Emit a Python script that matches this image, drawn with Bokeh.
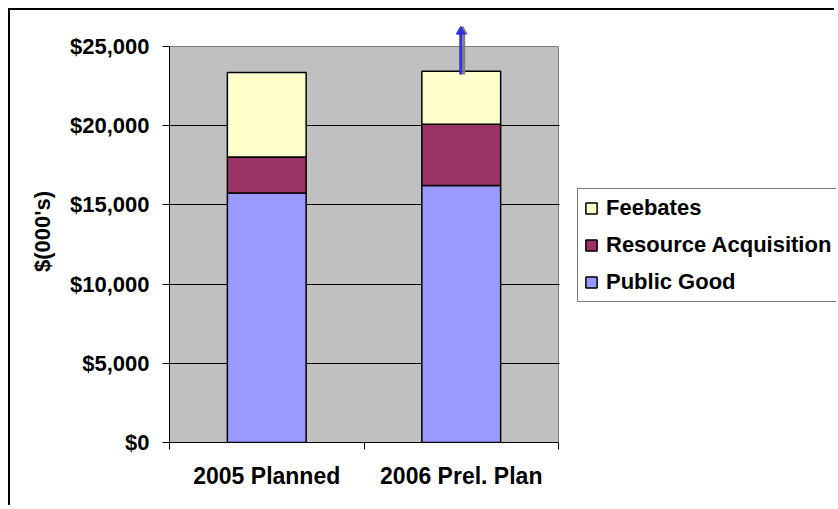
from bokeh.plotting import figure
from bokeh.models import (Range1d, FixedTicker, NumeralTickFormatter, Legend,
                          LegendItem, ColumnDataSource)
from bokeh.embed import file_html
from bokeh.resources import INLINE

# ---- data ----
categories = ["2005 Planned", "2006 Prel. Plan"]
public_good = [15750, 16220]
resource_acquisition = [2280, 3870]
feebates = [5330, 3350]
series_names = ["Public Good", "Resource Acquisition", "Feebates"]
series_colors = ["#9999FF", "#993366", "#FFFFCC"]
y_ticks = [0, 5000, 10000, 15000, 20000, 25000]
arrow_start_value = [23230]   # upward arrow above the 2006 bar: start
arrow_end_value = [26200]     # ... and tip

FONT = "Liberation Sans"

# ---- layout (pixels of the canvas) ----
CANVAS_W, CANVAS_H = 826, 497
LEFT, TOP, BOTTOM = 159, 10, 65
PLOT_W, PLOT_H = 389, 396         # grey plot area
FRAME_W = CANVAS_W - LEFT
FRAME_H = CANVAS_H - TOP - BOTTOM

n = len(categories)
x_max = n * FRAME_W / PLOT_W
y_max = y_ticks[-1] * FRAME_H / PLOT_H
px = n / PLOT_W                   # one pixel in x data units
py = y_ticks[-1] / PLOT_H         # one pixel in y data units

x = [i + 0.5 for i in range(n)]
source = ColumnDataSource(dict(x=x, pg=public_good, ra=resource_acquisition, fb=feebates))

p = figure(width=CANVAS_W, height=CANVAS_H, output_backend="svg", toolbar_location=None,
           x_range=Range1d(0, x_max), y_range=Range1d(0, y_max),
           min_border_left=LEFT, min_border_right=0, min_border_top=TOP,
           min_border_bottom=BOTTOM)
p.background_fill_color = "white"
p.border_fill_color = "white"
p.outline_line_color = None
p.styles = {"margin-left": "8px", "margin-top": "8px",
            "border-top": "2px solid black", "border-left": "2px solid black"}

# grey plot area (drawn beneath the grid)
bg = p.quad(left=0, right=n, bottom=y_ticks[0], top=y_ticks[-1],
            fill_color="#C0C0C0", line_color="#808080", line_width=1)
bg.level = "image"
# white cover to the right of the plot area (hides grid lines there)
p.quad(left=n + px, right=x_max, bottom=y_ticks[0], top=y_ticks[-1],
       fill_color="white", line_color=None)

renderers = p.vbar_stack(["pg", "ra", "fb"], x="x", width=0.405, source=source,
                         fill_color=series_colors, line_color="black", line_width=1.5)

# y axis
yax = p.yaxis[0]
yax.ticker = FixedTicker(ticks=y_ticks)
yax.formatter = NumeralTickFormatter(format="$0,0")
yax.bounds = (y_ticks[0], y_ticks[-1])
yax.major_tick_out = 7
yax.major_tick_in = 0
yax.minor_tick_out = 0
yax.minor_tick_in = 0
yax.axis_line_color = "black"
yax.major_tick_line_color = "black"
yax.major_label_standoff = 13
yax.major_label_text_font = FONT
yax.major_label_text_font_style = "bold"
yax.major_label_text_font_size = "22px"
yax.major_label_text_color = "black"
yax.axis_label = "$(000's)"
yax.axis_label_text_font = FONT
yax.axis_label_text_font_style = "bold"
yax.axis_label_text_font_size = "22px"
yax.axis_label_text_color = "black"
yax.axis_label_standoff = 12

# x axis
xax = p.xaxis[0]
xax.ticker = FixedTicker(ticks=x, minor_ticks=list(range(n + 1)))
xax.major_label_overrides = {xv: c for xv, c in zip(x, categories)}
xax.bounds = (0, n)
xax.major_tick_out = 0
xax.major_tick_in = 0
xax.minor_tick_out = 7
xax.minor_tick_in = 0
xax.minor_tick_line_color = "black"
xax.axis_line_color = "black"
xax.major_label_standoff = 13
xax.major_label_text_font = FONT
xax.major_label_text_font_style = "bold"
xax.major_label_text_font_size = "23px"
xax.major_label_text_color = "black"

p.xgrid.visible = False
p.ygrid.ticker = FixedTicker(ticks=y_ticks[1:-1])
p.ygrid.grid_line_color = "black"
p.ygrid.grid_line_width = 1

# legend (right of the plot area)
items = [LegendItem(label=s, renderers=[r])
         for s, r in reversed(list(zip(series_names, renderers)))]
legend = Legend(items=items, location=(408, 140))
legend.label_text_font = FONT
legend.label_text_font_style = "bold"
legend.label_text_font_size = "22px"
legend.label_text_color = "black"
legend.glyph_width = 14
legend.glyph_height = 14
legend.label_height = 20
legend.spacing = 11
legend.padding = 6
legend.margin = 0
legend.label_standoff = 8
legend.border_line_color = "black"
legend.border_line_width = 1
legend.background_fill_color = "white"
legend.background_fill_alpha = 1
p.add_layout(legend)

# arrow above the 2006 bar: grey shadow + blue arrow
ax = x[1] - 0.5 * px
head_center = arrow_end_value[0] - 4 * py
p.segment(x0=[ax + 3 * px], y0=arrow_start_value, x1=[ax + 3 * px], y1=[head_center],
          line_color="#808080", line_width=3)
p.scatter(x=[ax + 2 * px], y=[head_center], marker="triangle", size=9,
          fill_color="#808080", line_color="#808080")
p.segment(x0=[ax], y0=arrow_start_value, x1=[ax], y1=[head_center],
          line_color="#3333DD", line_width=3)
p.scatter(x=[ax], y=[head_center], marker="triangle", size=9,
          fill_color="#3333DD", line_color="#3333DD")

open("out.html", "w").write(file_html(p, INLINE))
